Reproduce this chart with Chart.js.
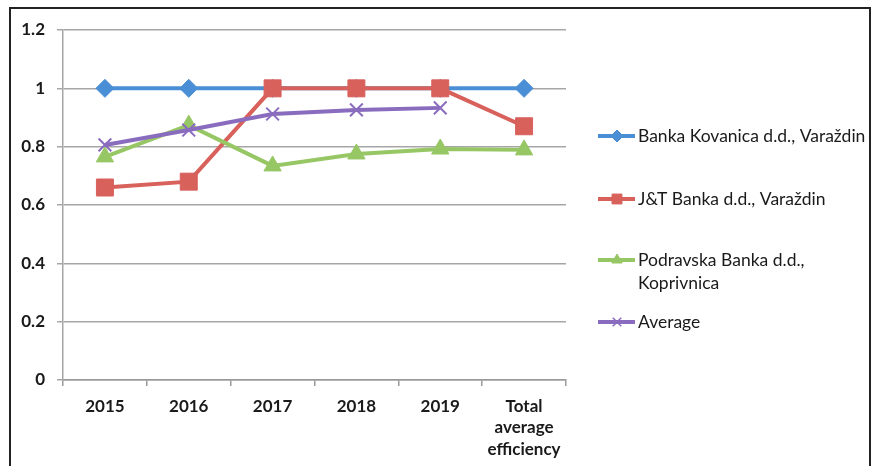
<!DOCTYPE html>
<html>
<head>
<meta charset="utf-8">
<script src="https://cdn.jsdelivr.net/npm/chart.js@4/dist/chart.umd.min.js"></script>
<style>
  html, body { margin: 0; padding: 0; background: #fff; }
  #wrap { position: relative; width: 879px; height: 466px; overflow: hidden; }
  #frame { position: absolute; left: 9px; top: 7px; width: 862px; height: 480px; border: 2px solid #222; box-sizing: border-box; }
  canvas { position: absolute; left: 0; top: 0; }
</style>
</head>
<body>
<div id="wrap">
  <div id="frame"></div>
  <canvas id="c" width="879" height="466"></canvas>
</div>
<script>
const categories = ['2015', '2016', '2017', '2018', '2019', ['Total', 'average', 'efficiency']];
const seriesNames = ['Banka Kovanica d.d., Varaždin', 'J&T Banka d.d., Varaždin', 'Podravska Banka d.d., Koprivnica', 'Average'];
const kovanica = [1, 1, 1, 1, 1, 1];
const jtBanka = [0.66, 0.68, 1, 1, 1, 0.87];
const podravska = [0.765, 0.874, 0.734, 0.775, 0.792, 0.789];
const average = [0.806, 0.857, 0.912, 0.926, 0.933, null];
const yTicks = [0, 0.2, 0.4, 0.6, 0.8, 1, 1.2];

const FONT = 'Lato, "Open Sans", sans-serif';
const colors = ['#4A8FD6', '#D8615C', '#97C765', '#8A6CBF'];
const styles = ['rectRot', 'rect', 'triangle', 'crossRot'];
const radii = [9, 12, 10, 9];

const legendLayout = [
  { lines: ['Banka Kovanica d.d., Varaždin'], y: 136 },
  { lines: ['J&T Banka d.d., Varaždin'], y: 199 },
  { lines: ['Podravska Banka d.d.,', 'Koprivnica'], y: 260 },
  { lines: ['Average'], y: 322 }
];

const legendPlugin = {
  id: 'customLegend',
  afterDraw(chart) {
    const ctx = chart.ctx;
    ctx.save();
    chart.data.datasets.forEach((ds, i) => {
      const L = legendLayout[i];
      const y = L.y;
      ctx.strokeStyle = ds.borderColor;
      ctx.fillStyle = ds.backgroundColor;
      ctx.lineWidth = 4;
      ctx.beginPath();
      ctx.moveTo(598, y);
      ctx.lineTo(635, y);
      ctx.stroke();
      ctx.lineWidth = ds.pointStyle === 'crossRot' ? 1.5 : 1;
      Chart.helpers.drawPoint(ctx, {
        pointStyle: ds.pointStyle,
        radius: ds.pointStyle === 'rect' ? 7 : 6,
        borderWidth: ctx.lineWidth
      }, 617, y);
      ctx.fillStyle = '#1a1a1a';
      ctx.font = '17.5px ' + FONT;
      ctx.textBaseline = 'middle';
      ctx.textAlign = 'left';
      L.lines.forEach((t, k) => ctx.fillText(t, 638, y + k * 23));
    });
    ctx.restore();
  }
};

const datasets = [kovanica, jtBanka, podravska, average].map((d, i) => ({
  label: seriesNames[i],
  data: d,
  borderColor: colors[i],
  backgroundColor: colors[i],
  pointBackgroundColor: colors[i],
  pointBorderColor: colors[i],
  pointStyle: styles[i],
  pointRadius: radii[i],
  pointBorderWidth: i === 3 ? 2 : 1,
  borderWidth: 4,
  tension: 0,
  spanGaps: false,
  order: 3 - i
}));

new Chart(document.getElementById('c'), {
  type: 'line',
  data: { labels: categories, datasets },
  plugins: [legendPlugin],
  options: {
    responsive: false,
    animation: false,
    layout: { padding: { top: 30, right: 313, bottom: 0, left: 0 } },
    plugins: { legend: { display: false }, tooltip: { enabled: false } },
    scales: {
      x: {
        offset: true,
        grid: { display: true, drawOnChartArea: false, drawTicks: true, tickLength: 6, offset: true, color: '#999', lineWidth: 1.5 },
        border: { display: true, color: '#999', width: 1.5 },
        ticks: { color: '#1a1a1a', font: { family: FONT, size: 17, weight: 'bold', lineHeight: 1.25 }, padding: 10, maxRotation: 0, autoSkip: false },
        afterFit(s) { s.height = 86; }
      },
      y: {
        min: 0, max: 1.2,
        afterBuildTicks(s) { s.ticks = yTicks.map(v => ({ value: v })); },
        grid: { color: '#a6a6a6', lineWidth: 1.5, tickLength: 6 },
        border: { display: true, color: '#a6a6a6', width: 1.5 },
        ticks: { color: '#1a1a1a', font: { family: FONT, size: 17, weight: 'bold' }, padding: 12,
                 callback: v => String(v) },
        afterFit(s) { s.width = 63; }
      }
    }
  }
});
</script>
</body>
</html>
